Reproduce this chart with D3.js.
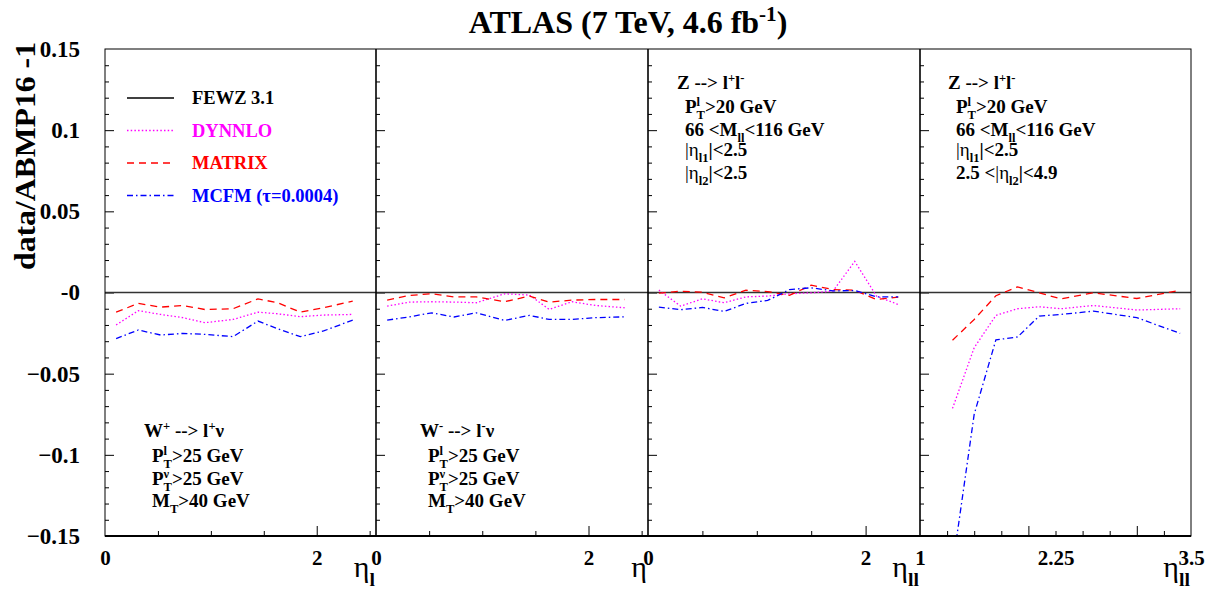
<!DOCTYPE html>
<html>
<head>
<meta charset="utf-8">
<script src="https://cdn.jsdelivr.net/npm/d3@7/dist/d3.min.js"></script>
<style>
body { margin: 0; background: #fff; }
text { font-family: "Liberation Serif", "Times New Roman", serif; font-weight: bold; }
</style>
</head>
<body>
<svg id="chart" width="1211" height="590"></svg>
<script>
// values: data/ABMP16 - 1 for each generator
var etaW = [0.105, 0.315, 0.525, 0.735, 0.945, 1.21, 1.445, 1.63, 1.845, 2.065, 2.34]
var etaZc = [0.1, 0.3, 0.5, 0.7, 0.9, 1.1, 1.3, 1.5, 1.7, 1.9, 2.1, 2.3]
var etaZf = [1.3, 1.5, 1.7, 1.9, 2.1, 2.3, 2.6, 3.0, 3.4]

var wplusDynnlo = [-0.0200, -0.0112, -0.0135, -0.0155, -0.0186, -0.0166, -0.0121, -0.0131, -0.0149, -0.0139, -0.0135]
var wplusMatrix = [-0.0121, -0.0067, -0.0090, -0.0080, -0.0105, -0.0100, -0.0039, -0.0063, -0.0121, -0.0094, -0.0053]
var wplusMcfm = [-0.0284, -0.0231, -0.0262, -0.0252, -0.0258, -0.0272, -0.0176, -0.0223, -0.0272, -0.0237, -0.0170]

var wminusDynnlo = [-0.0084, -0.0059, -0.0057, -0.0059, -0.0063, -0.0008, -0.0016, -0.0104, -0.0057, -0.0080, -0.0094]
var wminusMatrix = [-0.0047, -0.0018, -0.0008, -0.0027, -0.0027, -0.0057, -0.0022, -0.0059, -0.0047, -0.0043, -0.0043]
var wminusMcfm = [-0.0170, -0.0150, -0.0125, -0.0151, -0.0125, -0.0172, -0.0141, -0.0166, -0.0166, -0.0155, -0.0150]

var zcDynnlo = [0.0015, -0.0084, -0.0039, -0.0063, -0.0027, -0.0022, -0.0008, -0.0002, 0.0008, 0.0192, -0.0022, -0.0074]
var zcMatrix = [-0.0004, 0.0008, 0.0002, -0.0033, 0.0014, 0.0006, -0.0018, 0.0045, 0.0018, 0.0014, -0.0043, -0.0029]
var zcMcfm = [-0.0090, -0.0106, -0.0092, -0.0117, -0.0067, -0.0049, 0.0018, 0.0029, 0.0010, 0.0012, -0.0027, -0.0027]

var zfDynnlo = [-0.0714, -0.0340, -0.0141, -0.0100, -0.0088, -0.0100, -0.0080, -0.0108, -0.0100]
var zfMatrix = [-0.0294, -0.0166, -0.0020, 0.0035, -0.0002, -0.0039, -0.0002, -0.0037, 0.0014]
var zfMcfm = [-0.1690, -0.0750, -0.0292, -0.0274, -0.0145, -0.0135, -0.0115, -0.0155, -0.0252]

var fewzRef = 0

var yTickLabels = [0.15, 0.1, 0.05, 0, -0.05, -0.1, -0.15]
var xLabelsW = [0, 2]
var xLabelsZc = [0, 2]
var xLabelsZf = [1, 2.25, 3.5]
var xTicksW = [0.5, 1, 1.5, 2, 2.5]
var xTicksZc = [0.5, 1, 1.5, 2]
var xTicksZf = [1.25, 1.5, 1.75, 2, 2.25, 2.5, 2.75, 3, 3.25]

var legendNames = ["FEWZ 3.1", "DYNNLO", "MATRIX", "MCFM (\u03c4=0.0004)"]
var legendColors = ["#000", "#ff00ff", "#ff0000", "#0000ff"]
var legendDash = [null, "1.5,2.2", "7,5", "6,3,1.5,3"]

var svg = d3.select("#chart"),
    top_y = 49,
    bot_y = 536

var y = d3.scaleLinear().domain([-0.15, 0.15]).range([bot_y, top_y])

// writes a text with super/subscripts; "under" puts a subscript below the previous superscript
function rich_text(g, x, y0, parts, size, color, anchor) {
    var t = g.append("text")
        .attr("x", x)
        .attr("y", y0)
        .attr("font-size", size)
        .attr("fill", color || "#000")
        .attr("text-anchor", anchor || "start")
    var cur = 0, lastW = 0
    parts.forEach(function (p) {
        var kind = p[1] || "", off = 0, fs = size
        if (kind == "sup") { off = -0.38 * size; fs = 0.66 * size }
        if (kind == "sub" || kind == "under") { off = 0.3 * size; fs = 0.66 * size }
        var ts = t.append("tspan").attr("dy", off - cur).attr("font-size", fs).text(p[0])
        if (p[2]) ts.attr("font-weight", p[2])
        if (kind == "under") ts.attr("dx", -lastW)
        cur = off
        lastW = ts.node().getComputedTextLength()
    })
    return t
}

var panels = [
    { x0: 105, x1: 376, dom: [0, 2.56], eta: etaW, vals: [wplusDynnlo, wplusMatrix, wplusMcfm],
      ticks: xTicksW, major: [2], labels: xLabelsW, title: [["\u03b7", "", "normal"], ["l", "sub"]] },
    { x0: 376, x1: 648, dom: [0, 2.56], eta: etaW, vals: [wminusDynnlo, wminusMatrix, wminusMcfm],
      ticks: xTicksW, major: [2], labels: xLabelsW, title: [["\u03b7", "", "normal"]] },
    { x0: 648, x1: 920, dom: [0, 2.5], eta: etaZc, vals: [zcDynnlo, zcMatrix, zcMcfm],
      ticks: xTicksZc, major: [2], labels: xLabelsZc, title: [["\u03b7", "", "normal"], ["ll", "sub"]] },
    { x0: 920, x1: 1191, dom: [1, 3.5], eta: etaZf, vals: [zfDynnlo, zfMatrix, zfMcfm],
      ticks: xTicksZf, major: [2, 3], labels: xLabelsZf, title: [["\u03b7", "", "normal"], ["ll", "sub"]] }
]

var minorY = d3.range(-14, 15).map(function (i) { return i / 100 }).filter(function (v) { return Math.round(v * 100) % 5 != 0 })
var majorY = [-0.1, -0.05, 0, 0.05, 0.1]

panels.forEach(function (p, i) {
    var x = d3.scaleLinear().domain(p.dom).range([p.x0, p.x1])
    var g = svg.append("g")

    g.append("clipPath").attr("id", "clip" + i)
        .append("rect").attr("x", p.x0).attr("y", top_y).attr("width", p.x1 - p.x0).attr("height", bot_y - top_y)

    // y ticks pointing into the panel
    g.append("g").attr("transform", "translate(" + p.x0 + ",0)")
        .call(d3.axisRight(y).tickValues(minorY).tickSize(4).tickFormat(""))
        .call(function (a) { a.select(".domain").remove() })
    g.append("g").attr("transform", "translate(" + p.x0 + ",0)")
        .call(d3.axisRight(y).tickValues(majorY).tickSize(9).tickFormat(""))
        .call(function (a) { a.select(".domain").remove() })

    // x ticks pointing up
    var minorX = p.ticks.filter(function (v) { return p.major.indexOf(v) < 0 })
    g.append("g").attr("transform", "translate(0," + bot_y + ")")
        .call(d3.axisTop(x).tickValues(minorX).tickSize(5).tickFormat(""))
        .call(function (a) { a.select(".domain").remove() })
    g.append("g").attr("transform", "translate(0," + bot_y + ")")
        .call(d3.axisTop(x).tickValues(p.major).tickSize(10).tickFormat(""))
        .call(function (a) { a.select(".domain").remove() })

    // x labels
    g.append("g").attr("transform", "translate(0," + bot_y + ")")
        .call(d3.axisBottom(x).tickValues(p.labels).tickSize(0).tickPadding(14).tickFormat(d3.format("")))
        .call(function (a) {
            a.select(".domain").remove()
            a.selectAll("text").attr("font-size", 21).attr("font-family", "Liberation Serif").attr("font-weight", "bold").attr("fill", "#000")
        })

    rich_text(g, p.x1 - 1, 577, p.title, 30, "#000", "end")

    // FEWZ reference at zero
    g.append("line")
        .attr("x1", p.x0).attr("x2", p.x1)
        .attr("y1", y(fewzRef)).attr("y2", y(fewzRef))
        .attr("stroke", "#333").attr("stroke-width", 1.4)

    var line = d3.line()
        .x(function (d) { return x(d[0]) })
        .y(function (d) { return y(d[1]) })

    p.vals.forEach(function (vals, k) {
        g.append("path")
            .datum(d3.zip(p.eta, vals))
            .attr("clip-path", "url(#clip" + i + ")")
            .attr("fill", "none")
            .attr("stroke", legendColors[k + 1])
            .attr("stroke-width", 1.3)
            .attr("stroke-dasharray", legendDash[k + 1])
            .attr("d", line)
    })
})

// frame
svg.append("rect").attr("x", 105).attr("y", top_y).attr("width", 1191 - 105).attr("height", bot_y - top_y)
    .attr("fill", "none").attr("stroke", "#000").attr("stroke-width", 1)
svg.selectAll(".divider").data([376, 648, 920]).enter().append("line")
    .attr("x1", function (d) { return d }).attr("x2", function (d) { return d })
    .attr("y1", top_y).attr("y2", bot_y).attr("stroke", "#000").attr("stroke-width", 1.6)
svg.append("line").attr("x1", 105).attr("x2", 1191).attr("y1", bot_y).attr("y2", bot_y)
    .attr("stroke", "#000").attr("stroke-width", 2)

// y labels
svg.append("g").attr("transform", "translate(105,0)")
    .call(d3.axisLeft(y).tickValues(yTickLabels).tickSize(0).tickPadding(25)
        .tickFormat(function (d) { return d == 0 ? "-0" : d3.format("")(d) }))
    .call(function (a) {
        a.select(".domain").remove()
        a.selectAll("text").attr("font-size", 23).attr("font-family", "Liberation Serif").attr("font-weight", "bold").attr("fill", "#000")
    })

svg.append("text")
    .attr("transform", "translate(35,156) rotate(-90)")
    .attr("text-anchor", "middle")
    .attr("font-size", 30)
    .attr("textLength", 228)
    .attr("lengthAdjust", "spacingAndGlyphs")
    .text("data/ABMP16 -1")

// title
rich_text(svg, 628, 33, [["ATLAS (7 TeV, 4.6 fb"], ["-1", "sup"], [")"]], 32, "#000", "middle")

// legend
legendNames.forEach(function (name, k) {
    var ly = 98 + k * 32.5
    svg.append("line").attr("x1", 127).attr("x2", 174).attr("y1", ly).attr("y2", ly)
        .attr("stroke", legendColors[k]).attr("stroke-width", 1.3).attr("stroke-dasharray", legendDash[k])
    svg.append("text").attr("x", 192).attr("y", ly + 6).attr("font-size", 18.5)
        .attr("fill", legendColors[k]).text(name)
})

// process labels
function block(x, ys, lines) {
    lines.forEach(function (parts, j) {
        rich_text(svg, x + (j == 0 ? 0 : 8), ys[j], parts, 19, "#000")
    })
}
var wY = [437, 462, 485, 507]
block(144, wY, [
    [["W"], ["+", "sup"], [" --> l"], ["+", "sup"], ["\u03bd"]],
    [["P"], ["l", "sup"], ["T", "under"], [">25 GeV"]],
    [["P"], ["\u03bd", "sup"], ["T", "under"], [">25 GeV"]],
    [["M"], ["T", "sub"], [">40 GeV"]]
])
block(420, wY, [
    [["W"], ["-", "sup"], [" --> l"], ["-", "sup"], ["\u03bd"]],
    [["P"], ["l", "sup"], ["T", "under"], [">25 GeV"]],
    [["P"], ["\u03bd", "sup"], ["T", "under"], [">25 GeV"]],
    [["M"], ["T", "sub"], [">40 GeV"]]
])
var zY = [89, 113, 136, 156, 179]
block(677, zY, [
    [["Z --> l"], ["+", "sup"], ["l"], ["-", "sup"]],
    [["P"], ["l", "sup"], ["T", "under"], [">20 GeV"]],
    [["66 <M"], ["ll", "sub"], ["<116 GeV"]],
    [["|\u03b7", "", "normal"], ["l1", "sub"], ["|<2.5"]],
    [["|\u03b7", "", "normal"], ["l2", "sub"], ["|<2.5"]]
])
block(948, zY, [
    [["Z --> l"], ["+", "sup"], ["l"], ["-", "sup"]],
    [["P"], ["l", "sup"], ["T", "under"], [">20 GeV"]],
    [["66 <M"], ["ll", "sub"], ["<116 GeV"]],
    [["|\u03b7", "", "normal"], ["l1", "sub"], ["|<2.5"]],
    [["2.5 <"], ["|\u03b7", "", "normal"], ["l2", "sub"], ["|<4.9"]]
])
</script>
</body>
</html>
